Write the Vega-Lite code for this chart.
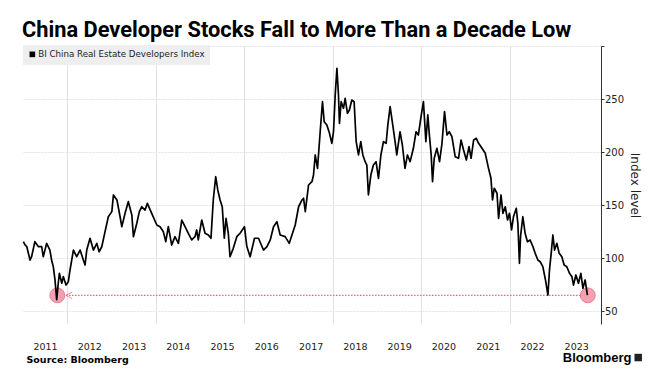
{
  "$schema": "https://vega.github.io/schema/vega-lite/v6.json",
  "width": 578,
  "height": 278,
  "autosize": "none",
  "padding": {"left": 23, "top": 46, "right": 61, "bottom": 55},
  "background": "#ffffff",
  "title": {
    "text": "China Developer Stocks Fall to More Than a Decade Low",
    "anchor": "start",
    "frame": "group",
    "font": "Roboto",
    "fontSize": 21.8,
    "fontWeight": "bold",
    "color": "#000000",
    "baseline": "alphabetic",
    "offset": 8,
    "dx": -1,
    "dy": 26
  },
  "config": {
    "view": {"stroke": null},
    "axis": {"labelFont": "DejaVu Sans", "titleFont": "DejaVu Sans"}
  },
  "datasets": {
    "index": [
      {"date":"2011-01-04","value":115.6},{"date":"2011-01-18","value":112.5},{"date":"2011-02-01","value":111},{"date":"2011-02-28","value":98.3},{"date":"2011-03-13","value":101.4},{"date":"2011-04-09","value":115.6},{"date":"2011-05-07","value":111},{"date":"2011-06-04","value":111},{"date":"2011-06-17","value":101.4},{"date":"2011-07-15","value":114},{"date":"2011-08-11","value":107.7},{"date":"2011-08-25","value":98.3},{"date":"2011-09-08","value":92},{"date":"2011-09-22","value":79.5},{"date":"2011-10-06","value":61},{"date":"2011-10-19","value":76.4},{"date":"2011-10-28","value":85.8},{"date":"2011-11-17","value":76.4},{"date":"2011-11-30","value":82.6},{"date":"2011-12-22","value":74.7},
      {"date":"2012-01-10","value":77.9},{"date":"2012-01-24","value":88.9},{"date":"2012-02-21","value":107.7},{"date":"2012-03-19","value":101.4},{"date":"2012-04-16","value":107.7},{"date":"2012-05-13","value":98.3},{"date":"2012-05-27","value":93.6},{"date":"2012-06-10","value":107.7},{"date":"2012-07-07","value":118.8},{"date":"2012-08-04","value":107.7},{"date":"2012-09-01","value":114},{"date":"2012-09-20","value":106.1},{"date":"2012-10-12","value":110.8},{"date":"2012-11-08","value":125},{"date":"2012-12-05","value":139.1},
      {"date":"2013-01-03","value":143.9},{"date":"2013-01-16","value":159.6},{"date":"2013-02-14","value":154.9},{"date":"2013-03-12","value":139.1},{"date":"2013-03-26","value":129.7},{"date":"2013-04-22","value":142.3},{"date":"2013-05-19","value":153.3},{"date":"2013-06-17","value":140.7},{"date":"2013-06-30","value":120.3},{"date":"2013-07-28","value":132.9},{"date":"2013-08-18","value":143.9},{"date":"2013-09-07","value":148.5},{"date":"2013-10-04","value":145.4},{"date":"2013-10-23","value":151.7},{"date":"2013-11-28","value":142.3},
      {"date":"2014-01-09","value":131.3},{"date":"2014-02-05","value":129.7},{"date":"2014-03-04","value":125},{"date":"2014-03-24","value":115.6},{"date":"2014-04-14","value":129.7},{"date":"2014-05-12","value":112.4},{"date":"2014-06-08","value":120.3},{"date":"2014-07-06","value":114},{"date":"2014-08-03","value":136},{"date":"2014-08-30","value":129.7},{"date":"2014-09-26","value":123.5},{"date":"2014-10-24","value":117.2},{"date":"2014-11-20","value":120.3},{"date":"2014-12-04","value":126.6},{"date":"2014-12-17","value":117.2},
      {"date":"2015-01-15","value":136},{"date":"2015-02-11","value":123.5},{"date":"2015-03-10","value":121.9},{"date":"2015-04-01","value":118.8},{"date":"2015-04-20","value":154.9},{"date":"2015-05-10","value":176.8},{"date":"2015-05-27","value":164.3},{"date":"2015-06-15","value":154.9},{"date":"2015-07-03","value":148.5},{"date":"2015-07-20","value":118.8},{"date":"2015-08-03","value":137.6},{"date":"2015-08-22","value":123.5},{"date":"2015-09-05","value":101.4},{"date":"2015-10-02","value":109.3},{"date":"2015-10-31","value":120.3},{"date":"2015-11-27","value":123.5},
      {"date":"2016-01-02","value":129.7},{"date":"2016-01-22","value":111},{"date":"2016-02-18","value":101.4},{"date":"2016-03-25","value":118.8},{"date":"2016-04-27","value":118.8},{"date":"2016-06-07","value":107.7},{"date":"2016-07-06","value":111},{"date":"2016-08-02","value":117.2},{"date":"2016-08-29","value":129.7},{"date":"2016-09-26","value":134.4},{"date":"2016-10-23","value":121.9},{"date":"2016-12-03","value":120.3},
      {"date":"2017-01-06","value":114},{"date":"2017-01-28","value":121.9},{"date":"2017-02-24","value":131.3},{"date":"2017-03-24","value":148.5},{"date":"2017-04-21","value":154.9},{"date":"2017-05-04","value":156.5},{"date":"2017-05-18","value":143.9},{"date":"2017-06-14","value":169},{"date":"2017-07-12","value":172.1},{"date":"2017-07-25","value":178.4},{"date":"2017-08-08","value":197.3},{"date":"2017-08-27","value":184.7},{"date":"2017-09-18","value":219.2},{"date":"2017-10-07","value":247.5},{"date":"2017-10-21","value":228.7},{"date":"2017-11-12","value":225.5},{"date":"2017-12-04","value":217.7},{"date":"2017-12-23","value":208.3},
      {"date":"2018-01-06","value":219.2},{"date":"2018-01-20","value":253.8},{"date":"2018-02-03","value":279},{"date":"2018-02-16","value":253.8},{"date":"2018-02-24","value":227.1},{"date":"2018-03-10","value":247.5},{"date":"2018-03-29","value":241.3},{"date":"2018-04-12","value":250.7},{"date":"2018-05-01","value":236.6},{"date":"2018-05-17","value":239.7},{"date":"2018-06-06","value":249.1},{"date":"2018-06-25","value":247.5},{"date":"2018-07-12","value":209.8},{"date":"2018-07-31","value":197.3},{"date":"2018-08-19","value":209.8},{"date":"2018-09-05","value":197.3},{"date":"2018-09-24","value":191},{"date":"2018-10-08","value":187.8},{"date":"2018-10-21","value":159.6},{"date":"2018-11-10","value":178.4},{"date":"2018-12-01","value":187.8},{"date":"2018-12-23","value":191},
      {"date":"2019-01-12","value":175.3},{"date":"2019-02-01","value":197.3},{"date":"2019-02-22","value":209.8},{"date":"2019-03-16","value":208.3},{"date":"2019-03-30","value":225.5},{"date":"2019-04-18","value":242.8},{"date":"2019-05-10","value":225.5},{"date":"2019-05-29","value":209.8},{"date":"2019-06-12","value":197.3},{"date":"2019-07-09","value":219.2},{"date":"2019-07-28","value":206.7},{"date":"2019-08-19","value":184.7},{"date":"2019-09-08","value":197.3},{"date":"2019-09-30","value":191},{"date":"2019-10-27","value":203.6},{"date":"2019-11-18","value":219.2},{"date":"2019-12-07","value":216.1},{"date":"2019-12-27","value":231.9},
      {"date":"2020-01-18","value":247.5},{"date":"2020-02-07","value":209.8},{"date":"2020-02-23","value":235},{"date":"2020-03-07","value":216.1},{"date":"2020-03-22","value":197.3},{"date":"2020-04-02","value":172.1},{"date":"2020-04-16","value":194.2},{"date":"2020-05-08","value":203.6},{"date":"2020-05-30","value":191},{"date":"2020-06-19","value":208.3},{"date":"2020-07-10","value":238.1},{"date":"2020-07-30","value":216.1},{"date":"2020-08-18","value":219.2},{"date":"2020-09-09","value":214.5},{"date":"2020-10-06","value":195.7},{"date":"2020-11-03","value":194.2},{"date":"2020-11-23","value":211.4},{"date":"2020-12-14","value":202},
      {"date":"2021-01-06","value":192.6},{"date":"2021-01-28","value":205.1},{"date":"2021-02-14","value":194.2},{"date":"2021-03-07","value":211.4},{"date":"2021-03-29","value":213},{"date":"2021-04-17","value":208.3},{"date":"2021-05-15","value":203.6},{"date":"2021-06-11","value":198.9},{"date":"2021-07-08","value":184.7},{"date":"2021-07-28","value":175.3},{"date":"2021-08-10","value":154.9},{"date":"2021-08-24","value":165.9},{"date":"2021-09-16","value":161.2},{"date":"2021-09-29","value":137.6},{"date":"2021-10-19","value":159.6},{"date":"2021-11-04","value":142.3},{"date":"2021-11-23","value":148.5},{"date":"2021-12-12","value":136},{"date":"2021-12-28","value":142.3},
      {"date":"2022-01-14","value":126.6},{"date":"2022-01-30","value":139.1},{"date":"2022-02-22","value":147},{"date":"2022-03-07","value":132.9},{"date":"2022-03-20","value":95.2},{"date":"2022-03-29","value":120.3},{"date":"2022-04-17","value":139.1},{"date":"2022-05-06","value":123.5},{"date":"2022-05-25","value":115.6},{"date":"2022-06-16","value":117.2},{"date":"2022-07-09","value":111},{"date":"2022-07-28","value":104.6},{"date":"2022-08-19","value":98.3},{"date":"2022-09-07","value":96.7},{"date":"2022-09-29","value":92},{"date":"2022-10-21","value":79.5},{"date":"2022-11-10","value":65.3},{"date":"2022-11-23","value":88.9},{"date":"2022-12-07","value":104.6},{"date":"2022-12-21","value":121.9},
      {"date":"2023-01-04","value":107.7},{"date":"2023-01-23","value":114},{"date":"2023-02-11","value":104.6},{"date":"2023-03-05","value":101.4},{"date":"2023-03-24","value":93.6},{"date":"2023-04-15","value":92},{"date":"2023-05-07","value":85.8},{"date":"2023-05-27","value":82.6},{"date":"2023-06-09","value":74.7},{"date":"2023-06-29","value":84.2},{"date":"2023-07-20","value":76.4},{"date":"2023-08-09","value":85.8},{"date":"2023-08-26","value":71.6},{"date":"2023-09-13","value":79.5},{"date":"2023-10-02","value":65.3}
    ],
    "lows": [{"date":"2011-10-11","value":65},{"date":"2023-10-05","value":65}],
    "span": [{"date":"2011-12-22","end":"2023-08-03","value":65}],
    "arrow": [{"date":"2012-01-16","value":65}],
    "brand": [{"date":"2023-03-13","value":2.2,"label":"Bloomberg"}],
    "logo": [{"date":"2024-11-24","value":6.4}]
  },
  "layer": [
    {
      "data": {"name": "lows"},
      "mark": {"type": "point", "shape": "circle", "filled": true, "size": 220, "fill": "#f4a0b2", "stroke": "#e87d93", "strokeWidth": 1, "opacity": 1},
      "encoding": {
        "x": {"field": "date", "type": "temporal"},
        "y": {"field": "value", "type": "quantitative"}
      }
    },
    {
      "data": {"name": "span"},
      "mark": {"type": "rule", "color": "#e8677f", "strokeWidth": 1.2, "strokeDash": [1.5, 1.5]},
      "encoding": {
        "x": {"field": "date", "type": "temporal"},
        "x2": {"field": "end"},
        "y": {"field": "value", "type": "quantitative"}
      }
    },
    {
      "data": {"name": "arrow"},
      "mark": {"type": "point", "shape": "M1,-1L-1,0L1,1", "filled": false, "size": 40, "stroke": "#e8677f", "strokeWidth": 1},
      "encoding": {
        "x": {"field": "date", "type": "temporal"},
        "y": {"field": "value", "type": "quantitative"}
      }
    },
    {
      "data": {"name": "index"},
      "mark": {"type": "line", "strokeWidth": 1.7, "strokeJoin": "round"},
      "encoding": {
        "x": {
          "field": "date",
          "type": "temporal",
          "scale": {"domain": [{"year": 2011, "month": 1, "date": 1}, {"year": 2024, "month": 1, "date": 22}]},
          "axis": {
            "title": "Source:  Bloomberg",
            "titleFont": "DejaVu Sans",
            "titleFontSize": 9.5,
            "titleFontWeight": "bold",
            "titleColor": "#000000",
            "titleAnchor": "start",
            "titleAlign": "left",
            "titleBaseline": "alphabetic",
            "titleX": 3,
            "titleY": 38,
            "tickCount": {"interval": "year", "step": 1},
            "format": "%Y",
            "labelExpr": "year(datum.value) < 2024 ? datum.label : ''",
            "labelOffset": 22,
            "labelAlign": "center",
            "labelBaseline": "top",
            "labelPadding": 17,
            "labelFontSize": 9.5,
            "labelColor": "#222222",
            "labelOverlap": false,
            "labelFlush": false,
            "labelBound": false,
            "ticks": false,
            "domain": false,
            "grid": true,
            "gridColor": "#e2e2e2",
            "gridWidth": 1,
            "gridOpacity": {"condition": {"test": "year(datum.value) % 2 == 0 && year(datum.value) < 2024", "value": 1}, "value": 0}
          }
        },
        "y": {
          "field": "value",
          "type": "quantitative",
          "scale": {"domain": [38, 300], "nice": false, "zero": false},
          "axis": {
            "orient": "right",
            "title": "Index level",
            "titleFontSize": 12,
            "titleFontWeight": "normal",
            "titleColor": "#222222",
            "titleAngle": 90,
            "titleAlign": "center",
            "titleBaseline": "middle",
            "titleX": 33,
            "titleY": 139,
            "values": [50, 75, 100, 125, 150, 175, 200, 225, 250, 275, 300],
            "labelExpr": "datum.value % 50 == 0 && datum.value < 300 ? datum.label : ''",
            "labelFontSize": 10,
            "labelColor": "#222222",
            "labelPadding": 0.5,
            "labelOverlap": false,
            "labelFlush": false,
            "domain": true,
            "domainColor": "#333333",
            "domainWidth": 1,
            "ticks": true,
            "tickColor": "#333333",
            "tickSize": {"condition": {"test": "datum.value % 50 == 0", "value": 3}, "value": 2},
            "grid": true,
            "gridColor": "#e2e2e2",
            "gridDash": [2, 1],
            "gridOpacity": {"condition": {"test": "datum.value % 50 == 0", "value": 1}, "value": 0}
          }
        },
        "color": {
          "datum": "BI China Real Estate Developers Index",
          "scale": {"range": ["#000000"]},
          "legend": {
            "title": null,
            "orient": "none",
            "legendX": 0,
            "legendY": -1,
            "fillColor": "#eeeeee",
            "padding": 5,
            "symbolType": "square",
            "symbolSize": 32,
            "symbolFillColor": "#000000",
            "symbolStrokeWidth": 0,
            "symbolOffset": 0,
            "labelOffset": 1.5,
            "labelLimit": 400,
            "labelFont": "DejaVu Sans",
            "labelFontSize": 8.7,
            "labelColor": "#222222"
          }
        }
      }
    },
    {
      "data": {"name": "brand"},
      "mark": {"type": "text", "align": "left", "baseline": "alphabetic", "font": "Liberation Sans", "fontSize": 13, "fontWeight": "bold", "color": "#000000"},
      "encoding": {
        "x": {"field": "date", "type": "temporal"},
        "y": {"field": "value", "type": "quantitative"},
        "text": {"field": "label"}
      }
    },
    {
      "data": {"name": "logo"},
      "mark": {"type": "point", "shape": "square", "filled": true, "size": 56, "color": "#222222", "opacity": 1},
      "encoding": {
        "x": {"field": "date", "type": "temporal"},
        "y": {"field": "value", "type": "quantitative"}
      }
    }
  ]
}
